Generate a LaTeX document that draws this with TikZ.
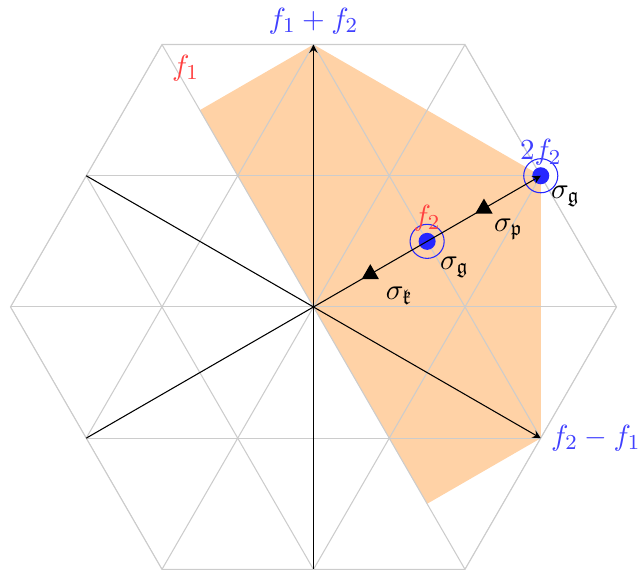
\documentclass[tikz,border=0pt,11pt]{standalone}
\usepackage{amsmath, amssymb}
\usepackage{xcolor}
\usepackage{tikz}
\usetikzlibrary{calc, shapes.geometric, positioning}

\tikzset{
    luoi/.style={gray!40},
    diem/.style={circle, fill=blue!85, inner sep=0pt, minimum size=6.4pt},
    vong/.style={circle, draw=blue!85, inner sep=0pt, minimum size=12.8pt},
    tamgiac/.style={regular polygon, regular polygon sides=3, fill=black, inner sep=0pt, minimum size=7.5pt},
}

\begin{document}
\begin{tikzpicture}[>=stealth, x=2cm, y=2cm]
    \useasboundingbox (-2.069,-1.732) rectangle (2.155,2.026);
    % Các điểm
    \coordinate (O) at (0,0);
    \coordinate (A) at (120:1.5);
    \coordinate (B) at (90:1.7321);
    \coordinate (C) at (30:1.7321);
    \coordinate (D) at (-30:1.7321);
    \coordinate (E) at (-60:1.5);
    \coordinate (W1) at (150:1.7321);
    \coordinate (W2) at (210:1.7321);
    \coordinate (W3) at (270:1.7321);
    \coordinate (H) at (-1,1.7321);
    \coordinate (M) at ($(O)!0.5!(C)$);
    
    % Miền tô màu
    \fill[orange!35] (A) -- (B) -- (C) -- (D) -- (E) -- cycle;
    
    % Lưới tam giác
    \begin{scope}
        \clip (0:2) -- (60:2) -- (120:2) -- (180:2) -- (240:2) -- (300:2) -- cycle;
        \foreach \k in {-2,...,2} {
            \draw[luoi] (-2.5,{\k*0.866}) -- (2.5,{\k*0.866});
        }
        \foreach \n in {-4,...,4} {
            \draw[luoi] (\n-1.5,-2.598) -- (\n+1.5,2.598);
            \draw[luoi] (\n+1.5,-2.598) -- (\n-1.5,2.598);
        }
    \end{scope}
    \draw[luoi] (0:2) -- (60:2) -- (120:2) -- (180:2) -- (240:2) -- (300:2) -- cycle;
    
    % Các trọng số
    \node[vong] (V2) at (C) {};
    \node[diem] (P2) at (C) {};
    \node[vong] (V1) at (M) {};
    \node[diem] (P1) at (M) {};
    
    % Các tia
    \draw (O) -- (W1);
    \draw (O) -- (W2);
    \draw (O) -- (W3);
    \draw[->] (O) -- (B);
    \draw[->] (O) -- (D);
    \draw[->] (O) -- (C);
    
    \node[tamgiac] (T1) at ($(O)!0.25!(C)$) {};
    \node[tamgiac] (T2) at ($(O)!0.75!(C)$) {};
    
    % Nhãn
    \node[above, blue!75] (lB) at (B) {$f_1+f_2$};
    \node[below right, red!75] (lH) at (H) {$f_1$};
    \node[above, blue!75] (lC) at (C) {$2f_2$};
    \node[below right] (sC) at (C) {$\sigma_{\mathfrak{g}}$};
    \node[above, red!75] (lM) at (M) {$f_2$};
    \node[below right, xshift=1pt, yshift=-2pt] (sM) at (M) {$\sigma_{\mathfrak{g}}$};
    \node[below right] (sT2) at (T2.center) {$\sigma_{\mathfrak{p}}$};
    \node[below right, xshift=2pt, yshift=-1pt] (sT1) at (T1.center) {$\sigma_{\mathfrak{k}}$};
    \node[right, blue!75] (lD) at (D) {$f_2-f_1$};
\end{tikzpicture}
\end{document}
